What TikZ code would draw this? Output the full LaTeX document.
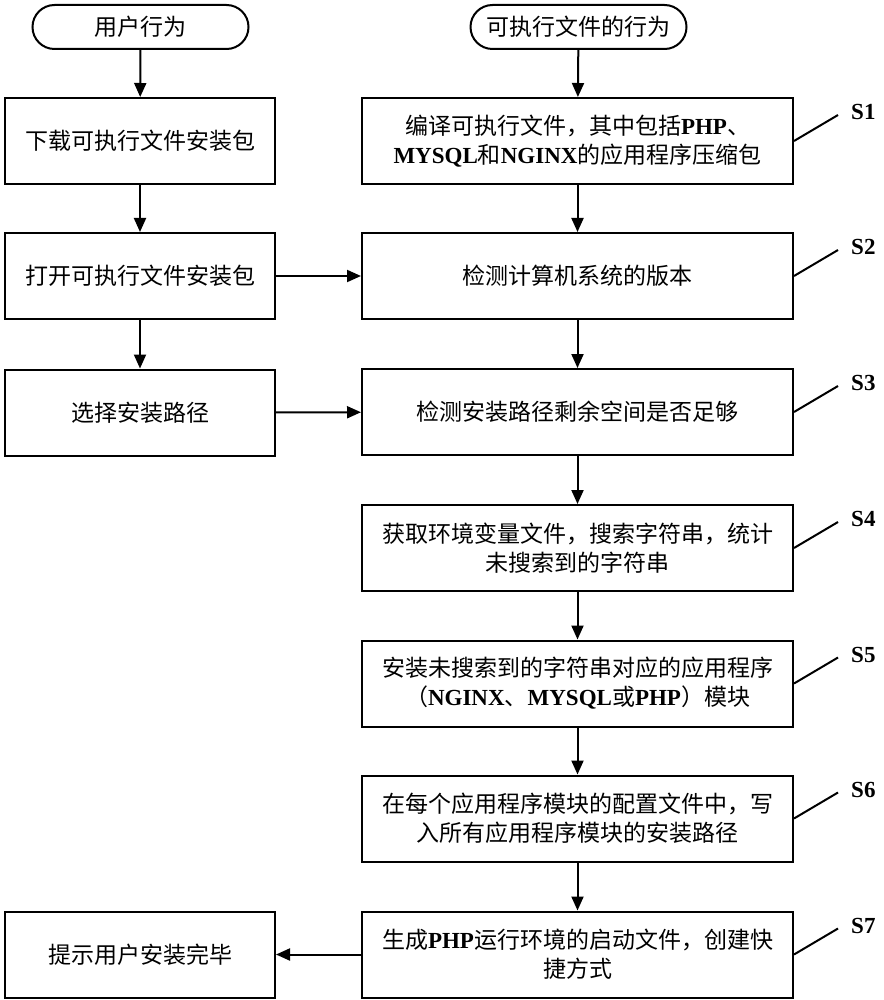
\documentclass[tikz,border=0pt]{standalone}
\usepackage{fontspec}
\setmainfont{Liberation Serif}
\newfontfamily\cjk{Noto Sans CJK SC}
\usetikzlibrary{arrows.meta}
\newcommand{\zh}[1]{{\cjk #1}}
\newcommand{\en}[1]{{\bfseries #1}}
\begin{document}
\begin{tikzpicture}[x=1pt,y=-1pt,
  box/.style={draw,line width=2pt,align=center,inner sep=0pt,
    font=\fontsize{23}{29}\selectfont},
  lbox/.style={box,minimum width=270pt,minimum height=86pt},
  rbox/.style={box,minimum width=431pt,minimum height=86pt},
  term/.style={draw,line width=2pt,rounded corners=22pt,minimum width=216pt,
    minimum height=44pt,inner sep=0pt,font=\fontsize{23}{29}\selectfont},
  arr/.style={line width=2pt,-{Triangle[length=14pt,width=12pt]}},
  slant/.style={line width=2pt},
  slabel/.style={font=\fontsize{23}{29}\selectfont\bfseries,inner sep=0pt}]
\useasboundingbox (0,0) rectangle (883,1000);
% terminals
\node[term] (tu) at (140.5,27) {\zh{用户行为}};
\node[term] (te) at (578.5,27) {\zh{可执行文件的行为}};
% left column
\node[lbox] (l1) at (140,141) {\zh{下载可执行文件安装包}};
\node[lbox] (l2) at (140,276) {\zh{打开可执行文件安装包}};
\node[lbox] (l3) at (140,412.5) {\zh{选择安装路径}};
\node[lbox] (l4) at (140,954.5) {\zh{提示用户安装完毕}};
% right column
\node[rbox] (s1) at (577.5,141) {\zh{编译可执行文件，其中包括}\en{PHP}\zh{、}\\\en{MYSQL}\zh{和}\en{NGINX}\zh{的应用程序压缩包}};
\node[rbox] (s2) at (577.5,276) {\zh{检测计算机系统的版本}};
\node[rbox] (s3) at (577.5,412) {\zh{检测安装路径剩余空间是否足够}};
\node[rbox] (s4) at (577.5,548) {\zh{获取环境变量文件，搜索字符串，统计}\\\zh{未搜索到的字符串}};
\node[rbox] (s5) at (577.5,683.5) {\zh{安装未搜索到的字符串对应的应用程序}\\\zh{（}\en{NGINX}\zh{、}\en{MYSQL}\zh{或}\en{PHP}\zh{）模块}};
\node[rbox] (s6) at (577.5,818.5) {\zh{在每个应用程序模块的配置文件中，写}\\\zh{入所有应用程序模块的安装路径}};
\node[rbox] (s7) at (577.5,954.5) {\zh{生成}\en{PHP}\zh{运行环境的启动文件，创建快}\\\zh{捷方式}};
% arrows left
\draw[arr] (tu) -- (l1);
\draw[arr] (l1) -- (l2);
\draw[arr] (l2) -- (l3);
% arrows right
\draw[arr] (te) -- (s1);
\draw[arr] (s1) -- (s2);
\draw[arr] (s2) -- (s3);
\draw[arr] (s3) -- (s4);
\draw[arr] (s4) -- (s5);
\draw[arr] (s5) -- (s6);
\draw[arr] (s6) -- (s7);
% cross arrows
\draw[arr] (l2) -- (s2);
\draw[arr] (l3) -- (s3);
\draw[arr] (s7) -- (l4);
% step labels
\foreach \i in {1,...,7}{
  \draw[slant] (s\i.east) -- ++(44,-26) coordinate (c\i);
  \node[slabel,anchor=west] (lab\i) at ([xshift=13pt,yshift=3pt]c\i) {S\i};
}
\end{tikzpicture}
\end{document}
